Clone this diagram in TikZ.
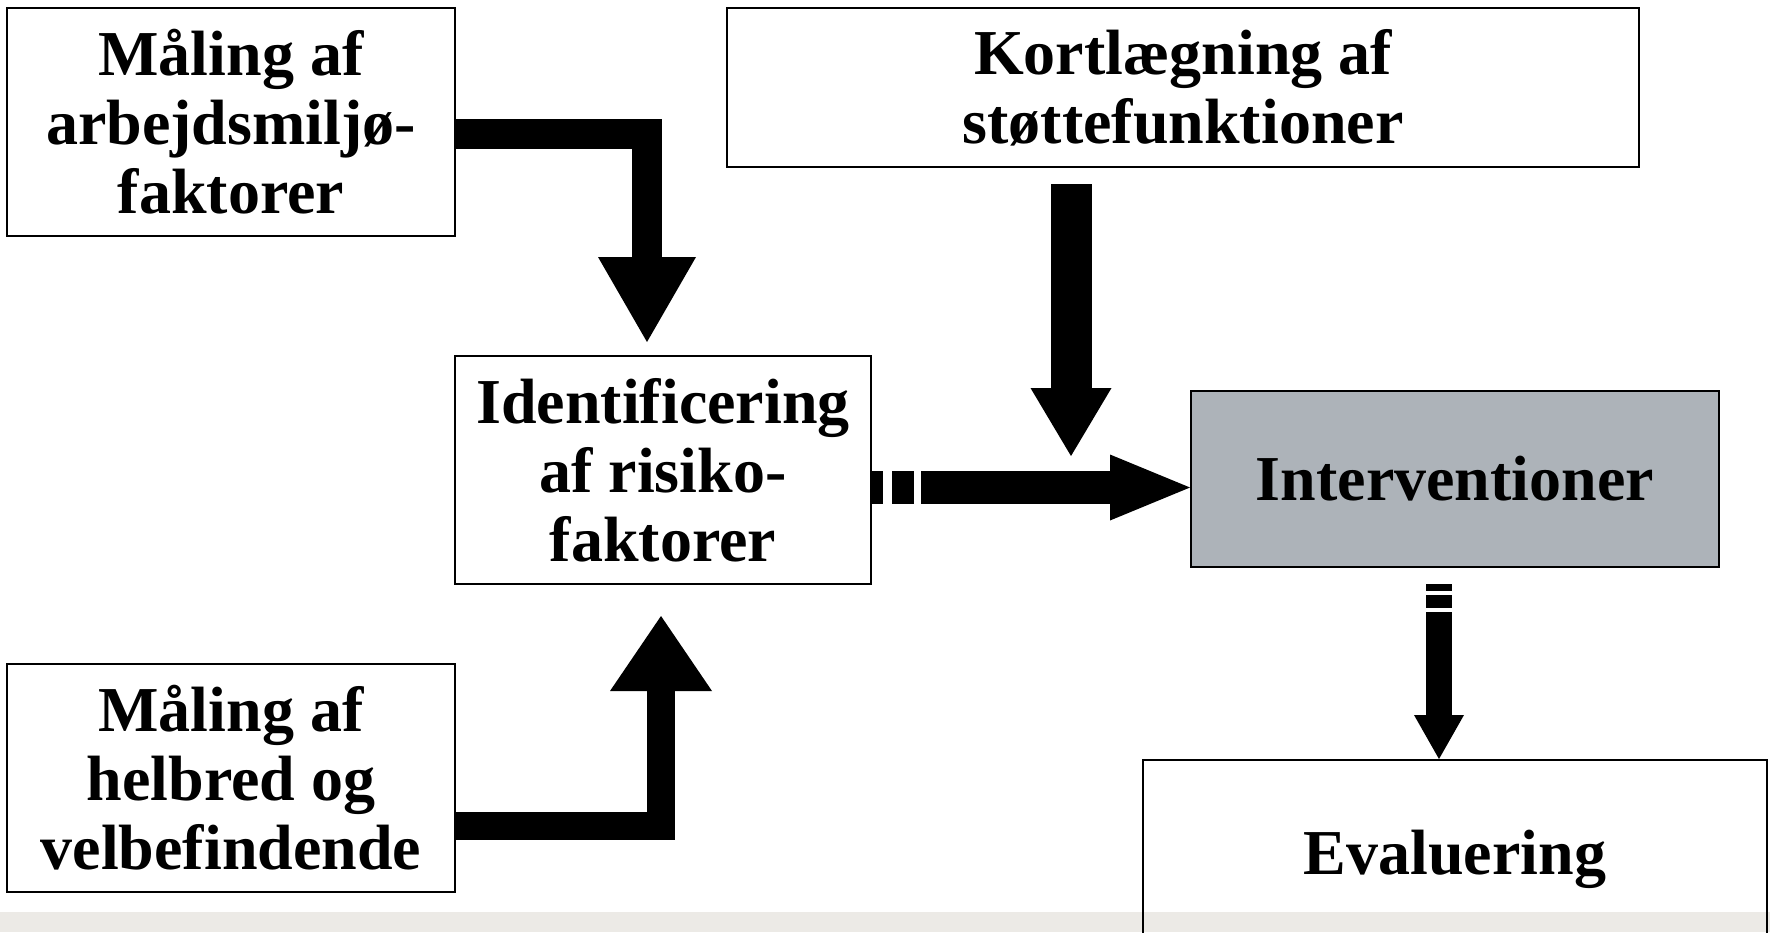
\documentclass[tikz,border=0pt]{standalone}
\usepackage{fontspec}
\setmainfont{Liberation Serif}
\usetikzlibrary{arrows.meta}
\definecolor{stripgray}{HTML}{ECEAE6}
\definecolor{intgray}{HTML}{ADB3B9}
\begin{document}
\begin{tikzpicture}[x=1pt,y=-1pt,
  boxs/.style={draw, line width=2pt, inner sep=0pt, align=center,
    font=\fontsize{64}{69}\selectfont\bfseries},
  barrow/.style={line join=miter, line cap=butt}]
\useasboundingbox (0,0) rectangle (1770,932);
\clip (0,0) rectangle (1770,932);
\fill[stripgray] (0,912) rectangle (1770,932);

\node[boxs, minimum width=448pt, minimum height=228pt] (m1) at (231,122)
  {Måling af\\arbejdsmiljø-\\faktorer};
\node[boxs, minimum width=912pt, minimum height=159pt] (kort) at (1183,87.5)
  {Kortlægning af\\støttefunktioner};
\node[boxs, minimum width=416pt, minimum height=228pt] (ident) at (663,470)
  {Identificering\\af risiko-\\faktorer};
\node[boxs, fill=intgray, minimum width=528pt, minimum height=176pt] (interv) at (1455,479)
  {Interventioner};
\node[boxs, minimum width=448pt, minimum height=228pt] (m2) at (231,778)
  {Måling af\\helbred og\\velbefindende};
\node[boxs, text depth=0pt, minimum width=624pt, minimum height=184pt] (eval) at (1455,852)
  {Evaluering};

\coordinate (a3tip) at (1071,456);

\draw[barrow, line width=30pt, -{Triangle[length=85pt,width=98pt,line width=0pt]}]
  ([yshift=-12pt]m1.east) -| ([xshift=-16pt,yshift=13pt]ident.north);
\draw[barrow, line width=28pt, -{Triangle[length=75pt,width=102pt,line width=0pt]}]
  ([yshift=-48pt]m2.east) -| ([xshift=-2pt,yshift=-31pt]ident.south);
\draw[barrow, line width=41pt, -{Triangle[length=68pt,width=81pt,line width=0pt]}]
  ([xshift=-112pt,yshift=-16pt]kort.south) -- (a3tip);
\draw[barrow, line width=33pt, dash pattern=on 11pt off 9pt on 22pt off 7pt on 2000pt,
  -{Triangle[length=80pt,width=66pt,line width=0pt]}]
  ([yshift=-17.5pt]ident.east) -- ([yshift=-17.5pt]ident.east -| interv.west);
\draw[barrow, line width=26pt, dash pattern=on 7pt off 4pt on 13pt off 4pt on 2000pt,
  -{Triangle[length=44pt,width=50pt,line width=0pt]}]
  ([xshift=-16pt,yshift=-16pt]interv.south) -- ([xshift=-16pt]eval.north);
\end{tikzpicture}
\end{document}
